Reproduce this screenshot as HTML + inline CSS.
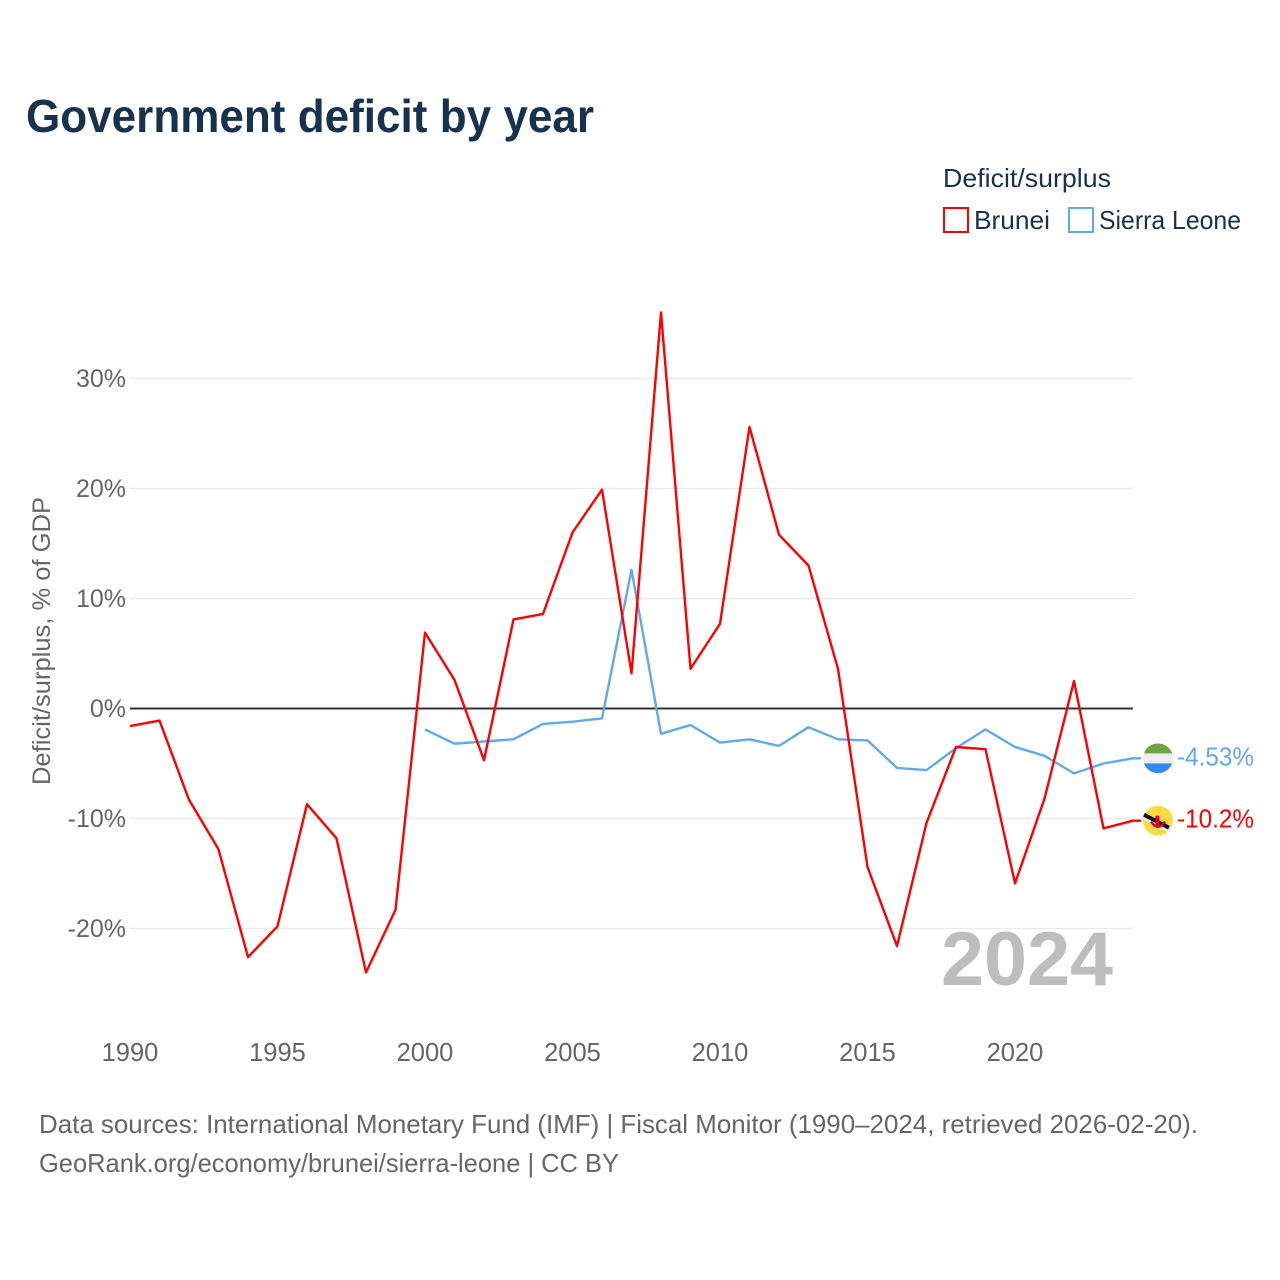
<!DOCTYPE html>
<html lang="en">
<head>
<meta charset="utf-8">
<title>Government deficit by year</title>
<style>
html,body{margin:0;padding:0;background:#fff;}
#stage{display:block;width:1280px;height:1280px;font-family:"Liberation Sans",sans-serif;}
</style>
</head>
<body>
<svg id="stage" xmlns="http://www.w3.org/2000/svg" width="1280" height="1280" viewBox="0 0 1280 1280">
  <rect x="0" y="0" width="1280" height="1280" fill="#ffffff"/>
  <text x="26" y="132" font-size="46" font-weight="700" fill="#17324f" textLength="568" lengthAdjust="spacingAndGlyphs">Government deficit by year</text>

  <g>
    <text x="943" y="187" font-size="26" fill="#17324f" textLength="168" lengthAdjust="spacingAndGlyphs">Deficit/surplus</text>
    <rect x="944" y="208" width="24" height="24" fill="#fff" stroke="#ff0000" stroke-width="2"/>
    <text x="974" y="229" font-size="26" fill="#17324f" textLength="76" lengthAdjust="spacingAndGlyphs">Brunei</text>
    <rect x="1069" y="208" width="24" height="24" fill="#fff" stroke="#5ea9f0" stroke-width="2"/>
    <text x="1099" y="229" font-size="26" fill="#17324f" textLength="142" lengthAdjust="spacingAndGlyphs">Sierra Leone</text>
  </g>

  <g id="grid"></g>
  <g id="yticks"></g>
  <g id="xticks"></g>
  <text transform="translate(50,641) rotate(-90)" text-anchor="middle" font-size="25" fill="#666666" textLength="288" lengthAdjust="spacingAndGlyphs">Deficit/surplus, % of GDP</text>

  <text x="1113" y="985" text-anchor="end" font-size="76" font-weight="700" fill="#bdbdbd" textLength="172" lengthAdjust="spacingAndGlyphs">2024</text>

  <g id="series"></g>
  <g id="ends"></g>

  <g>
    <text x="39" y="1133" font-size="26" fill="#666666" textLength="1159" lengthAdjust="spacingAndGlyphs">Data sources: International Monetary Fund (IMF) | Fiscal Monitor (1990–2024, retrieved 2026-02-20).</text>
    <text x="39" y="1172" font-size="26" fill="#666666" textLength="580" lengthAdjust="spacingAndGlyphs">GeoRank.org/economy/brunei/sierra-leone | CC BY</text>
  </g>
</svg>
<script>
const years = [1990,1991,1992,1993,1994,1995,1996,1997,1998,1999,2000,2001,2002,2003,2004,2005,2006,2007,2008,2009,2010,2011,2012,2013,2014,2015,2016,2017,2018,2019,2020,2021,2022,2023,2024];
const brunei = [-1.6,-1.1,-8.3,-12.8,-22.6,-19.8,-8.7,-11.8,-24.0,-18.3,6.9,2.6,-4.7,8.1,8.6,16.0,19.9,3.2,36.0,3.6,7.7,25.6,15.8,13.0,3.6,-14.4,-21.6,-10.4,-3.5,-3.7,-15.9,-8.2,2.5,-10.9,-10.2];
const sierraLeone = [null,null,null,null,null,null,null,null,null,null,-1.9,-3.2,-3.0,-2.8,-1.4,-1.2,-0.9,12.6,-2.3,-1.5,-3.1,-2.8,-3.4,-1.7,-2.8,-2.9,-5.4,-5.6,-3.6,-1.9,-3.5,-4.3,-5.9,-5.0,-4.53];
const yTicks = [-20,-10,0,10,20,30];
const xTicks = [1990,1995,2000,2005,2010,2015,2020];
const bruneiEndLabel = '-10.2%';
const sierraEndLabel = '-4.53%';

const NS = 'http://www.w3.org/2000/svg';
function xScale(v){ return 130 + (v - 1990) * 29.5; }
function yScale(v){ return 708.5 - v * 11; }
function make(tag, attrs, parent){
  const el = document.createElementNS(NS, tag);
  for (const k in attrs) el.setAttribute(k, attrs[k]);
  parent.appendChild(el);
  return el;
}
const grid = document.getElementById('grid');
const yG = document.getElementById('yticks');
const xG = document.getElementById('xticks');
const seriesG = document.getElementById('series');
const endsG = document.getElementById('ends');

yTicks.forEach(function(t){
  const line = make('line', {x1:130, x2:1133, y1:yScale(t), y2:yScale(t), stroke:t===0?'#333333':'#e9e9e9', 'stroke-width':t===0?2:1.5}, grid);
  
  
  const label = make('text', {x:126, y:yScale(t)+8.5, 'text-anchor':'end', 'font-size':25, fill:'#666666'}, yG);
  
  
  label.textContent = t + '%';
});
xTicks.forEach(function(t){
  const label = make('text', {x:xScale(t), y:1061, 'text-anchor':'middle', 'font-size':25.5, fill:'#666666'}, xG);
  
  
  label.textContent = t;
});

function linePath(values){
  let d = '';
  values.forEach(function(v, i){
    if (v === null) return;
    d += (d ? 'L' : 'M') + xScale(years[i]).toFixed(2) + ' ' + yScale(v).toFixed(2);
  });
  return d;
}
const last = years.length - 1;

const sierraPath = make('path', {d:linePath(sierraLeone) + 'h8', fill:'none', stroke:'#5ea9f0', 'stroke-width':2.4, 'stroke-linejoin':'round'}, seriesG);


const bruneiPath = make('path', {d:linePath(brunei) + 'h8', fill:'none', stroke:'#ff0000', 'stroke-width':2.4, 'stroke-linejoin':'round'}, seriesG);



/* Sierra Leone flag */
const fx = 1158;
const syEnd = yScale(sierraLeone[last]);
const slFlag = make('g', {}, endsG);


make('circle', {cx:fx, cy:syEnd, r:15, fill:'#eeeeee'}, slFlag);
make('path', {d:'M'+(fx-14.1)+' '+(syEnd-5)+'A15 15 0 0 1 '+(fx+14.1)+' '+(syEnd-5)+'Z', fill:'#6da544'}, slFlag);
make('path', {d:'M'+(fx-14.1)+' '+(syEnd+5)+'A15 15 0 0 0 '+(fx+14.1)+' '+(syEnd+5)+'Z', fill:'#338af3'}, slFlag);

const slLabel = make('text', {x:1177, y:syEnd+7, 'font-size':25.5, fill:'#5ea9f0'}, endsG);


slLabel.setAttribute('textLength', '77');
slLabel.setAttribute('lengthAdjust', 'spacingAndGlyphs');
slLabel.textContent = sierraEndLabel;

/* Brunei flag */
const byEnd = yScale(brunei[last]);
const bnFlag = make('g', {}, endsG);


make('circle', {cx:fx, cy:byEnd, r:15, fill:'#ffda44'}, bnFlag);
make('line', {x1:fx-13, y1:byEnd-4, x2:fx+13, y2:byEnd+9, stroke:'#eeeeee', 'stroke-width':7}, bnFlag);
make('line', {x1:fx-14, y1:byEnd-6, x2:fx+11, y2:byEnd+7, stroke:'#111111', 'stroke-width':4}, bnFlag);
make('rect', {x:fx-2.5, y:byEnd-5, width:4, height:11, fill:'#d80027'}, bnFlag);
make('path', {d:'M'+(fx-7)+' '+(byEnd+1)+'Q'+fx+' '+(byEnd+11)+' '+(fx+7)+' '+(byEnd+1), fill:'none', stroke:'#d80027', 'stroke-width':2.5}, bnFlag);

const bnLabel = make('text', {x:1177, y:byEnd+7, 'font-size':25.5, fill:'#ff0000'}, endsG);


bnLabel.setAttribute('textLength', '77');
bnLabel.setAttribute('lengthAdjust', 'spacingAndGlyphs');
bnLabel.textContent = bruneiEndLabel;
</script>
</body>
</html>
